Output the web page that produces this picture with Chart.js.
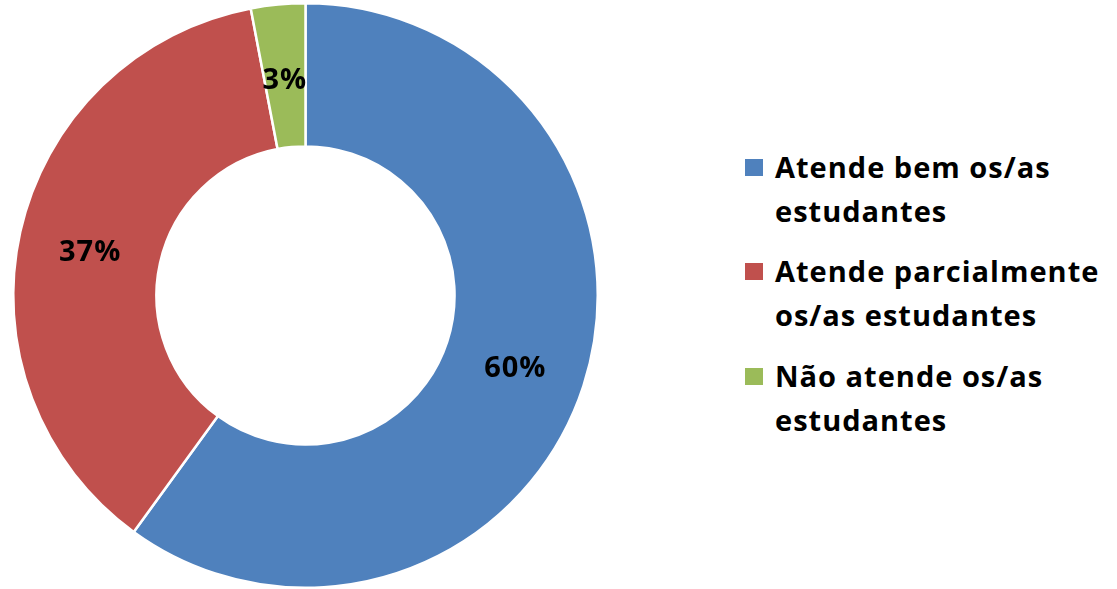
<!DOCTYPE html>
<html>
<head>
<meta charset="utf-8">
<script src="https://cdn.jsdelivr.net/npm/chart.js@4/dist/chart.umd.min.js"></script>
<style>
  html, body { margin: 0; padding: 0; background: #fff; }
  body { width: 1117px; height: 589px; position: relative; overflow: hidden; font-family: 'Open Sans', sans-serif; }
  #chartWrap { position: absolute; left: 0; top: 0; width: 612px; height: 589px; }
  #legend { position: absolute; left: 0; top: 0; }
  .item { position: absolute; left: 775px; font-weight: 700; font-size: 29px; letter-spacing: 1px; line-height: 44px; color: #000; white-space: nowrap; }
  .box { position: absolute; left: -30px; top: 14px; width: 18px; height: 17px; }
</style>
</head>
<body>
<div id="chartWrap"><canvas id="chartDonut"></canvas></div>
<div id="legend"></div>
<script>
const LABELS = [
  ['Atende bem os/as', 'estudantes'],
  ['Atende parcialmente', 'os/as estudantes'],
  ['Não atende os/as', 'estudantes']
];
const VALUES = [60, 37, 3];
const COLORS = ['#4F81BD', '#C0504D', '#9BBB59'];
const LEGEND_TOPS = [145, 249, 354];

// percentage labels drawn in the middle of each slice
const sliceLabels = {
  id: 'sliceLabels',
  afterDatasetsDraw(chart) {
    const ctx = chart.ctx;
    const meta = chart.getDatasetMeta(0);
    ctx.save();
    ctx.font = "bold 29px 'Open Sans', sans-serif";
    ctx.letterSpacing = '1px';
    ctx.fillStyle = '#000';
    ctx.textAlign = 'center';
    ctx.textBaseline = 'middle';
    meta.data.forEach((arc, i) => {
      const p = arc.getCenterPoint();
      ctx.fillText(VALUES[i] + '%', p.x, p.y + 5);
    });
    ctx.restore();
  }
};

const legendEl = document.getElementById('legend');
LABELS.forEach((lines, i) => {
  const div = document.createElement('div');
  div.className = 'item';
  div.style.top = LEGEND_TOPS[i] + 'px';
  div.innerHTML = `<span class="box" style="background:${COLORS[i]}"></span>${lines.join('<br>')}`;
  legendEl.appendChild(div);
});

const ctx = document.getElementById('chartDonut').getContext('2d');
new Chart(ctx, {
  type: 'doughnut',
  data: {
    labels: LABELS.map(l => l.join(' ')),
    datasets: [{
      data: VALUES,
      backgroundColor: COLORS,
      borderColor: '#ffffff',
      borderWidth: 2.5
    }]
  },
  options: {
    responsive: true,
    maintainAspectRatio: false,
    animation: false,
    cutout: '51%',
    layout: { padding: { left: 11, right: 12, top: 2, bottom: 0 } },
    plugins: {
      legend: { display: false },
      tooltip: { enabled: false }
    }
  },
  plugins: [sliceLabels]
});
</script>
</body>
</html>
